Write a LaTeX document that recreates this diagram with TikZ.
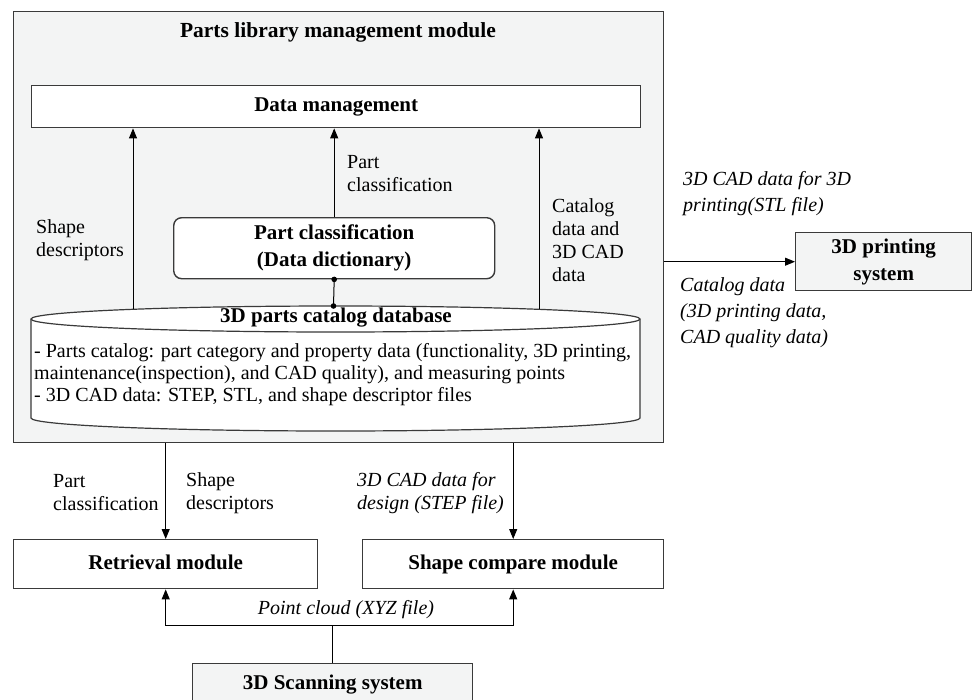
\documentclass[tikz,border=0pt]{standalone}
\usepackage{fontspec}
\setmainfont{Liberation Serif}
\usetikzlibrary{arrows.meta}
\definecolor{panel}{HTML}{F3F4F4}
\definecolor{edge}{HTML}{3A3A3A}
\begin{document}
\begin{tikzpicture}[x=1pt,y=-1pt,
  box/.style={draw=edge, line width=1.4pt, anchor=north west},
  hd/.style={font=\fontsize{21}{27}\selectfont\bfseries, align=center, inner sep=0pt},
  lbl/.style={font=\fontsize{20}{23}\selectfont, align=left, inner sep=0pt, anchor=west},
  ilbl/.style={font=\fontsize{20}{26}\selectfont\itshape, align=left, inner sep=0pt, anchor=west},
  arr/.style={line width=1pt, -{Triangle[length=10pt,width=8pt]}},
  link/.style={line width=1pt}]
\useasboundingbox (0,0) rectangle (973,699);

% parts library management module
\node[box, fill=panel, minimum width=650pt, minimum height=431pt] (plm) at (13,11) {};
\node[hd, font=\fontsize{21.5}{27}\selectfont\bfseries] (title) at (338,32) {Parts library management module};
\node[box, hd, fill=white, minimum width=609pt, minimum height=42pt] (dm) at (31,85) {Data management};
\node[box, hd, fill=white, rounded corners=8pt, minimum width=321pt, minimum height=61pt] (pc) at (173,217) {Part classification\\(Data dictionary)};

% catalog database cylinder
\draw[edge, line width=1.2pt, fill=white] (31,319) -- (31,418)
  arc[start angle=180, end angle=0, x radius=304.5, y radius=13] -- (640,319)
  arc[start angle=0, end angle=-180, x radius=304.5, y radius=13] -- cycle;
\draw[edge, line width=1.2pt] (31,319) arc[start angle=180, end angle=0, x radius=304.5, y radius=13];
\node[hd] (db) at (336,318) {3D parts catalog database\vphantom{p}};
\node[lbl, font=\fontsize{20}{22}\selectfont] (dbtext) at (34,375) {- Parts catalog: part category and property data (functionality, 3D printing,\\maintenance(inspection), and CAD quality), and measuring points\\- 3D CAD data: STEP, STL, and shape descriptor files};

\coordinate (cL) at (133,309.3);
\coordinate (cR) at (539,309.3);
\coordinate (cM) at (333.5,306);

% labels inside the module
\node[lbl] (lsd) at (36,240.5) {Shape\\descriptors};
\node[lbl] (lpc) at (347,173.5) {Part\\classification};
\node[lbl] (lcat) at (552,240) {Catalog\\data and\\3D CAD\\data};

% 3D printing system
\node[box, hd, fill=panel, minimum width=176pt, minimum height=58pt] (prt) at (795,232) {3D printing\\system};
\node[ilbl] (lstl) at (683,194) {3D CAD data for 3D\\printing(STL file)};
\node[ilbl] (lcd) at (680,313) {Catalog data\\(3D printing data,\\CAD quality data)};

% lower modules
\node[box, hd, fill=white, minimum width=304pt, minimum height=49pt] (ret) at (13,539) {Retrieval module\vphantom{p}};
\node[box, hd, fill=white, minimum width=301pt, minimum height=49pt] (cmp) at (362,539) {Shape compare module};
\node[box, hd, fill=panel, minimum width=280pt, minimum height=42pt] (scan) at (192,663) {3D Scanning system};

\node[lbl] (lpc2) at (53,492.5) {Part\\classification};
\node[lbl] (lsd2) at (186,493.5) {Shape\\descriptors};
\node[ilbl, font=\fontsize{20}{23}\selectfont\itshape] (lstep) at (357,493.5) {3D CAD data for\\design (STEP file)};
\node[font=\fontsize{20}{23}\selectfont\itshape, inner sep=0pt] (lxyz) at (346,610) {Point cloud (XYZ file)};

% connectors
\draw[arr] (cL) -- (cL |- dm.south);
\draw[arr] (cR) -- (cR |- dm.south);
\draw[arr] (pc.north) -- (pc.north |- dm.south);
\draw[link] (pc.south) -- (cM);
\fill (pc.south) circle[radius=2.8pt];
\fill (cM) circle[radius=2.8pt];

\draw[arr] (plm.east |- prt.west) -- (prt.west);

\draw[arr] (plm.south -| ret.north) -- (ret.north);
\draw[arr] (plm.south -| cmp.north) -- (cmp.north);

\path (scan.north) ++(0,-38) coordinate (split);
\draw[link] (scan.north) -- (split);
\draw[arr] (split) -| (ret.south);
\draw[arr] (split) -| (cmp.south);
\end{tikzpicture}
\end{document}
